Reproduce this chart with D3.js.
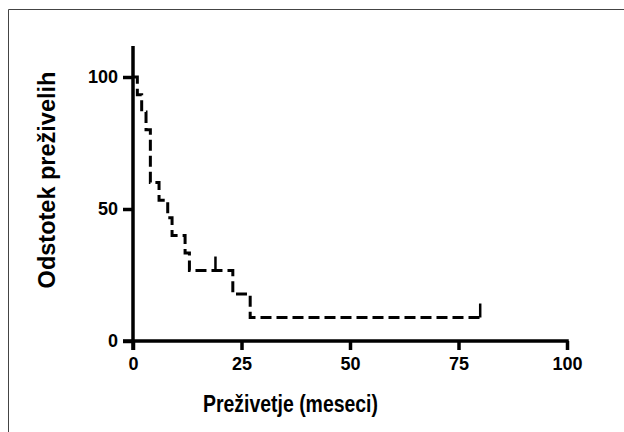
<!DOCTYPE html>
<html>
<head>
<meta charset="utf-8">
<script src="https://cdn.jsdelivr.net/npm/d3@7"></script>
<style>
  body { margin: 0; background: #fff; }
  svg text { font-family: Arial, "Liberation Sans", sans-serif; font-weight: bold; fill: #000; }
</style>
</head>
<body>
<div id="chart"></div>
<script>
// Kaplan-Meier steps
var times    = [0, 1, 2, 3, 4, 6, 8, 9, 12, 13, 19, 23, 27, 80];
var survival = [100, 93.3, 86.7, 80, 60, 53.3, 46.7, 40, 33.3, 26.7, 26.7, 17.8, 8.9, 8.9];
var censorT  = [19, 80];
var censorS  = [26.7, 8.9];
var xTicks   = [0, 25, 50, 75, 100];
var yTicks   = [0, 50, 100];

var W = 624, H = 432;
var svg = d3.select("#chart").append("svg")
  .attr("width", W).attr("height", H);

// frame (left + top only, like the cropped export)
svg.append("line").attr("x1", 8.5).attr("y1", 9.5).attr("x2", W).attr("y2", 9.5)
  .attr("stroke", "#444").attr("stroke-width", 1);
svg.append("line").attr("x1", 8.5).attr("y1", 9.5).attr("x2", 8.5).attr("y2", H)
  .attr("stroke", "#444").attr("stroke-width", 1);

var x = d3.scaleLinear().domain([0, 100]).range([133, 567]);
var y = d3.scaleLinear().domain([0, 100]).range([341, 77]);

var g = svg.append("g");

// axes
var xAxis = d3.axisBottom(x).tickValues(xTicks).tickSize(9).tickSizeOuter(0).tickPadding(7);
var yAxis = d3.axisLeft(y).tickValues(yTicks).tickSize(10).tickSizeOuter(0).tickPadding(5);

var gx = g.append("g").attr("transform", "translate(0," + y(0) + ")").call(xAxis);
var gy = g.append("g").attr("transform", "translate(" + x(0) + ",0)").call(yAxis);
gx.select(".domain").remove();
gy.select(".domain").remove();
[gx, gy].forEach(function(a) {
  a.selectAll(".tick line").attr("stroke", "#000").attr("stroke-width", 3.5);
  a.selectAll(".tick text").style("font-size", "18px");
});

g.append("line")
  .attr("x1", x(0) - 10).attr("x2", x(100) + 1.75)
  .attr("y1", y(0)).attr("y2", y(0))
  .attr("stroke", "#000").attr("stroke-width", 3.5);
g.append("line")
  .attr("x1", x(0)).attr("x2", x(0))
  .attr("y1", y(0) + 9).attr("y2", 46)
  .attr("stroke", "#000").attr("stroke-width", 3.5);

// survival curve
var pts = times.map(function(t, i) { return [t, survival[i]]; });
var line = d3.line()
  .x(function(d) { return x(d[0]); })
  .y(function(d) { return y(d[1]); })
  .curve(d3.curveStepAfter);

g.append("path")
  .datum(pts)
  .attr("d", line)
  .attr("fill", "none")
  .attr("stroke", "#000")
  .attr("stroke-width", 3)
  .attr("stroke-dasharray", "11,5");

// censor marks
g.selectAll(".cens").data(censorT).enter().append("line")
  .attr("class", "cens")
  .attr("x1", function(d) { return x(d); })
  .attr("x2", function(d) { return x(d); })
  .attr("y1", function(d, i) { return y(censorS[i]); })
  .attr("y2", function(d, i) { return y(censorS[i]) - 14; })
  .attr("stroke", "#000").attr("stroke-width", 2.5);

// axis titles
svg.append("text")
  .attr("x", 290.5).attr("y", 412)
  .attr("text-anchor", "middle")
  .attr("textLength", 175)
  .attr("lengthAdjust", "spacingAndGlyphs")
  .style("font-size", "23px")
  .text("Preživetje (meseci)");

svg.append("text")
  .attr("transform", "translate(55,180) rotate(-90)")
  .attr("text-anchor", "middle")
  .style("font-size", "23.5px")
  .text("Odstotek preživelih");
</script>
</body>
</html>
